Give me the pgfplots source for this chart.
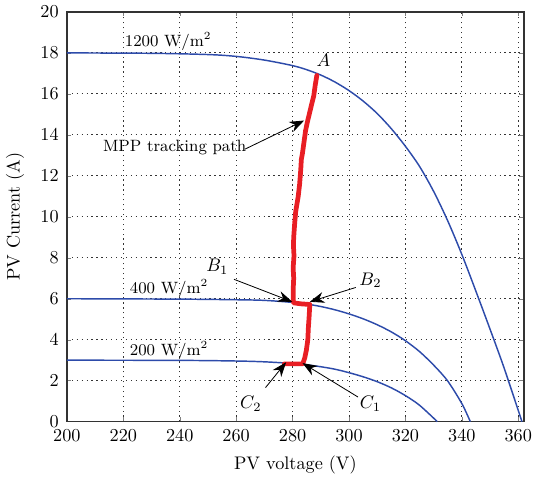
\documentclass[border=0pt]{standalone}
\usepackage{pgfplots}
\pgfplotsset{compat=1.18}
\usetikzlibrary{arrows.meta}
\definecolor{cblue}{RGB}{45,75,170}
\definecolor{cred}{RGB}{232,30,36}
\begin{document}
\begin{tikzpicture}
\begin{axis}[
  scale only axis,
  width=251pt, height=225pt,
  xmin=200, xmax=362, ymin=0, ymax=20,
  xtick={200,220,...,360}, ytick={0,2,...,20},
  tick pos=both, tick align=inside,
  major tick length=2.5pt,
  grid=major,
  major grid style={dash pattern=on 0.7pt off 2pt, black!80, line width=0.5pt},
  axis line style={line width=0.8pt, black!80},
  xlabel={PV voltage (V)}, ylabel={PV Current (A)},
  xlabel style={yshift=-1pt}, ylabel style={yshift=2pt},
  xticklabel style={yshift=-1pt}, yticklabel style={xshift=-1pt},
  clip=false,
]
% 1200 W/m2
\addplot[cblue, line width=0.8pt, smooth] coordinates {
(200,18) (230,17.98) (250,17.92) (260,17.83) (270,17.65) (280,17.38) (285,17.18)
(290,16.92) (295,16.58) (300,16.16) (305,15.65) (310,15.04) (315,14.30) (320,13.44)
(325,12.46) (330,11.24) (335,9.80) (340,8.16) (345,6.36) (350,4.51) (355,2.61) (361.3,0)};
% 400 W/m2
\addplot[cblue, line width=0.8pt, smooth] coordinates {
(200,6.0) (240,5.98) (260,5.95) (270,5.92) (280,5.82) (285,5.74) (290,5.62) (295,5.46)
(300,5.26) (305,5.02) (310,4.73) (315,4.38) (320,3.95) (325,3.42) (330,2.76)
(335,1.98) (340,0.88) (343,0)};
% 200 W/m2
\addplot[cblue, line width=0.8pt, smooth] coordinates {
(200,3.0) (240,2.99) (260,2.96) (270,2.92) (280,2.84) (285,2.77) (290,2.68) (295,2.56)
(300,2.39) (305,2.19) (310,1.95) (315,1.65) (320,1.27) (325,0.80) (331.3,0)};
% MPP tracking path
\addplot[cred, line width=2.6pt, line join=round, line cap=round] coordinates {
(288.6,16.9) (288.0,16.4) (287.5,15.9) (286.6,15.4) (285.9,15.0) (285.2,14.6)
(284.6,14.2) (284.0,13.6) (283.5,13.1) (283.1,12.8) (282.9,12.3) (282.5,11.6)
(282.0,11.0) (281.1,10.25) (280.7,9.6) (280.4,9.0) (280.3,8.6) (280.5,8.1)
(280.2,7.5) (280.4,7.0) (280.2,6.4) (280.3,5.8) (283.0,5.75) (286.1,5.72)
(285.9,5.2) (285.6,4.6) (285.4,4.0) (284.9,3.5) (284.3,3.1) (283.6,2.82)
(281.0,2.82) (277.1,2.82)};
% labels
\node[font=\small] at (axis cs:235.9,18.55) {1200 W/m$^2$};
\node[font=\small] at (axis cs:236.2,6.5) {400 W/m$^2$};
\node[font=\small] at (axis cs:236.2,3.45) {200 W/m$^2$};
\node at (axis cs:290.9,17.66) {$A$};
\node[font=\small] at (axis cs:238.2,13.4) {MPP tracking path};
\draw[-{Stealth[length=8pt,width=6pt]}, line width=0.45pt] (axis cs:263.1,13.3) -- (axis cs:284.1,14.7);
\node at (axis cs:253.3,7.57) {$B_1$};
\draw[-{Stealth[length=8pt,width=6pt]}, line width=0.45pt] (axis cs:259.2,6.95) -- (axis cs:279.9,5.85);
\node at (axis cs:307.6,6.9) {$B_2$};
\draw[-{Stealth[length=8pt,width=6pt]}, line width=0.45pt] (axis cs:302.4,6.55) -- (axis cs:286.1,5.85);
\node at (axis cs:265.2,0.88) {$C_2$};
\draw[-{Stealth[length=8pt,width=6pt]}, line width=0.45pt] (axis cs:270.4,1.66) -- (axis cs:277.7,2.9);
\node at (axis cs:307.6,0.88) {$C_1$};
\draw[-{Stealth[length=8pt,width=6pt]}, line width=0.45pt] (axis cs:303.2,1.2) -- (axis cs:283.5,2.86);
\end{axis}
\end{tikzpicture}
\end{document}
